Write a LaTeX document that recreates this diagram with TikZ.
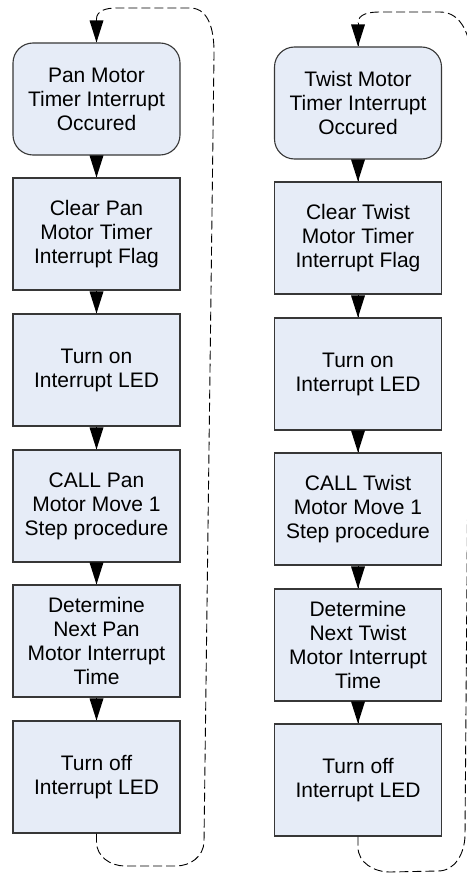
\documentclass[tikz,border=0pt]{standalone}
\usepackage{fontspec}
\setmainfont{Liberation Sans}
\definecolor{boxfill}{RGB}{230,236,247}
\definecolor{boxline}{RGB}{55,55,55}
\newcommand\headat[2][black]{\fill[#1] (#2) -- ++(-7,22) -- ++(14,0) -- cycle;}
\begin{document}
\begin{tikzpicture}[x=1pt,y=1pt,
  box/.style={draw=boxline, fill=boxfill, line width=1.1pt, minimum width=167pt,
    minimum height=112pt, align=center, inner sep=0pt,
    font=\fontsize{21}{24}\selectfont},
  rbox/.style={box, rounded corners=20pt},
  link/.style={line width=1pt, draw=black},
  backloop/.style={line width=0.9pt, dash pattern=on 9pt off 4pt}]
\useasboundingbox (0,0) rectangle (466,-875);
% left column
\node[rbox] (L1) at (96.5,-99) {Pan Motor\\Timer Interrupt\\Occured};
\node[box] (L2) at (96.5,-234) {Clear Pan\\Motor Timer\\Interrupt Flag};
\node[box] (L3) at (96.5,-370) {Turn on\\Interrupt LED};
\node[box] (L4) at (96.5,-506) {CALL Pan\\Motor Move 1\\Step procedure};
\node[box] (L5) at (96.5,-641) {Determine\\Next Pan\\Motor Interrupt\\Time};
\node[box] (L6) at (96.5,-777) {Turn off\\Interrupt LED};
% right column
\node[rbox] (R1) at (358,-103) {Twist Motor\\Timer Interrupt\\Occured};
\node[box] (R2) at (358,-238) {Clear Twist\\Motor Timer\\Interrupt Flag};
\node[box] (R3) at (358,-374) {Turn on\\Interrupt LED};
\node[box] (R4) at (358,-509) {CALL Twist\\Motor Move 1\\Step procedure};
\node[box] (R5) at (358,-645) {Determine\\Next Twist\\Motor Interrupt\\Time};
\node[box] (R6) at (358,-780) {Turn off\\Interrupt LED};
% arrows
\foreach \c in {L,R}{
  \foreach \a/\b in {1/2,2/3,3/4,4/5,5/6}{
    \draw[link] (\c\a.south) -- (\c\b.north);
    \headat{\c\b.north}
  }
}
% loop ends
\coordinate (Ltip) at (96.5,-19);
\coordinate (Rtip) at (358,-23);
% loops
\draw[backloop] (L6.south) -- (96.5,-842) to[out=-90,in=180] (125,-866) -- (176,-866)
  to[out=0,in=-92] (204,-842) -- (214,-55) to[out=89,in=0] (190,-8) -- (116,-8)
  to[out=180,in=90] (Ltip);
\draw[backloop] (R6.south) -- (358,-847) to[out=-90,in=180] (390,-872) -- (438,-871)
  to[out=0,in=-92] (465,-836) -- (471,-60) to[out=90,in=0] (440,-12) -- (380,-12)
  to[out=180,in=90] (Rtip);
\draw[link] (Ltip) -- (L1.north);
\headat{L1.north}
\draw[link] (Rtip) -- (R1.north);
\headat{R1.north}
\end{tikzpicture}
\end{document}
